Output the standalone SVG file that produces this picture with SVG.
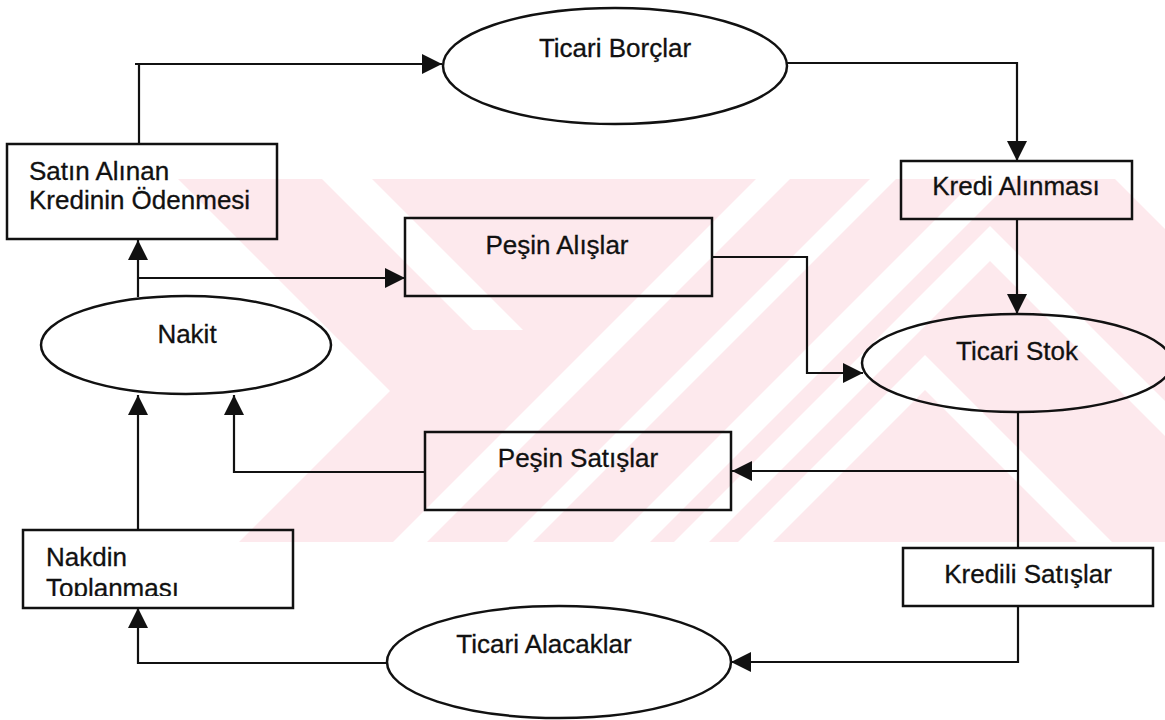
<svg xmlns="http://www.w3.org/2000/svg" width="1165" height="720" viewBox="0 0 1165 720">
<defs>
<style>
.shape{fill:none;stroke:#111;stroke-width:2.5}
.line{fill:none;stroke:#111;stroke-width:2.2}
.lbl{font-family:"Liberation Sans",Arial,sans-serif;font-size:26px;fill:#111;stroke:#111;stroke-width:0.3}
.mid{text-anchor:middle}
.wm{fill:#fde9ed}
.wmw{fill:#fff}
</style>
<marker id="ah" viewBox="0 0 20 20" markerWidth="20" markerHeight="20" refX="20" refY="10" orient="auto" markerUnits="userSpaceOnUse">
<path d="M0,0 L20,10 L0,20 z" fill="#111"/>
</marker>
<clipPath id="band"><rect x="178" y="179" width="987" height="363"/></clipPath>
<clipPath id="nakdinClip"><rect x="23" y="530" width="270" height="66"/></clipPath>
</defs>
<rect x="0" y="0" width="1165" height="720" fill="#fff"/>
<g id="watermark" clip-path="url(#band)">
<rect class="wm" x="178" y="179" width="987" height="363"/>
<polygon class="wmw" points="178,179 390,391 239,542 178,542"/>
<polygon class="wmw" points="322,179 372,179 523,330 473,330"/>
<polygon class="wmw" points="393,542 427,542 790,179 756,179"/>
<polygon class="wmw" points="507,542 533,542 896,179 870,179"/>
<polygon class="wmw" points="613,542 650,542 1013,179 976,179"/>
<polygon class="wmw" points="925,355 1112,542 1077,542 925,390 773,542 738,542"/>
<polygon class="wmw" points="990,226 1165,401 1165,436 990,261 709,542 674,542"/>
<polygon class="wmw" points="1115,179 1165,179 1165,229"/>
</g>
<g id="connectors">
<path class="line" d="M139,144 V64 M135,64 H442" marker-end="url(#ah)"/>
<path class="line" d="M787,63 H1017 V161" marker-end="url(#ah)"/>
<path class="line" d="M1017,219 V314" marker-end="url(#ah)"/>
<path class="line" d="M712,257 H807 V373 H863" marker-end="url(#ah)"/>
<path class="line" d="M1018,412 V548"/>
<path class="line" d="M1018,471 H732" marker-end="url(#ah)"/>
<path class="line" d="M1018,606 V662 H731" marker-end="url(#ah)"/>
<path class="line" d="M387,663 H138 V608" marker-end="url(#ah)"/>
<path class="line" d="M138,530 V395" marker-end="url(#ah)"/>
<path class="line" d="M425,472 H234 V395" marker-end="url(#ah)"/>
<path class="line" d="M138,297 V240" marker-end="url(#ah)"/>
<path class="line" d="M138,278 H405" marker-end="url(#ah)"/>
</g>
<g id="satin">
<rect class="shape" x="7" y="144" width="270" height="95"/>
<text class="lbl" x="29" y="180">Satın Alınan</text>
<text class="lbl" x="29" y="209">Kredinin Ödenmesi</text>
</g>
<g id="ticari-borclar">
<ellipse class="shape" cx="615" cy="66" rx="172" ry="58"/>
<text class="lbl mid" x="615" y="57">Ticari Borçlar</text>
</g>
<g id="kredi-alinmasi">
<rect class="shape" x="901" y="161" width="231" height="58"/>
<text class="lbl mid" x="1016" y="195">Kredi Alınması</text>
</g>
<g id="pesin-alislar">
<rect class="shape" x="405" y="218" width="307" height="78"/>
<text class="lbl mid" x="557" y="254">Peşin Alışlar</text>
</g>
<g id="nakit">
<ellipse class="shape" cx="186" cy="345" rx="145" ry="49"/>
<text class="lbl mid" x="187" y="343">Nakit</text>
</g>
<g id="ticari-stok">
<ellipse class="shape" cx="1017" cy="363" rx="155" ry="49"/>
<text class="lbl mid" x="1017" y="360">Ticari Stok</text>
</g>
<g id="pesin-satislar">
<rect class="shape" x="425" y="432" width="306" height="78"/>
<text class="lbl mid" x="578" y="467">Peşin Satışlar</text>
</g>
<g id="nakdin-toplanmasi">
<rect class="shape" x="23" y="530" width="270" height="78"/>
<text class="lbl" x="46" y="566">Nakdin</text>
<text class="lbl" x="46" y="597" clip-path="url(#nakdinClip)">Toplanması</text>
</g>
<g id="kredili-satislar">
<rect class="shape" x="903" y="548" width="250" height="58"/>
<text class="lbl mid" x="1028" y="583">Kredili Satışlar</text>
</g>
<g id="ticari-alacaklar">
<ellipse class="shape" cx="559" cy="662" rx="172" ry="56"/>
<text class="lbl mid" x="544" y="653">Ticari Alacaklar</text>
</g>
</svg>
